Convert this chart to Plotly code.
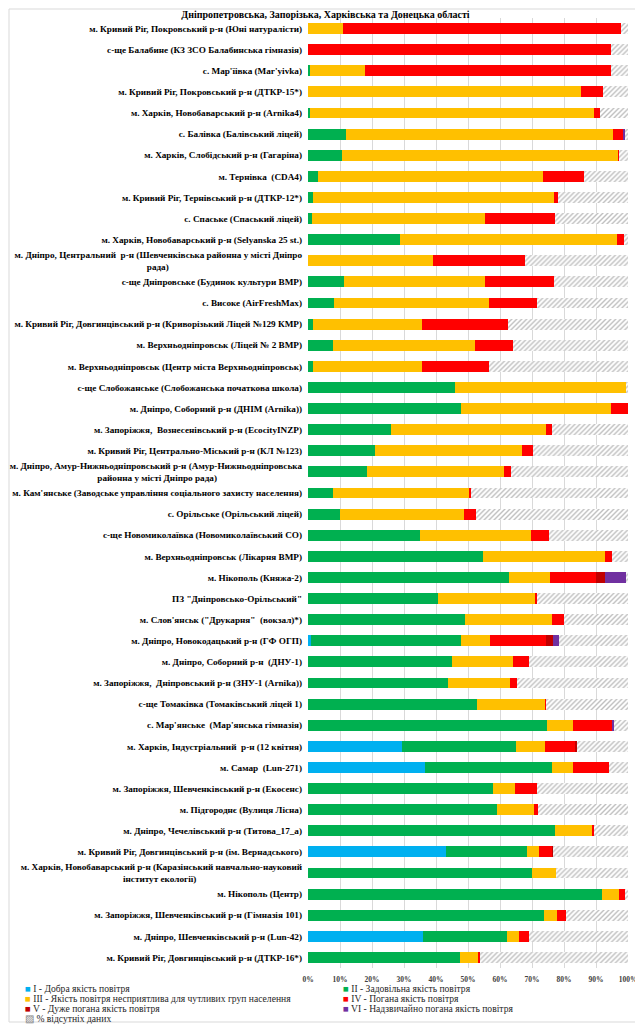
import plotly.graph_objects as go

categories = [
    "м. Кривий Ріг, Покровський р-н (Юні натуралісти)",
    "с-ще Балабине (КЗ ЗСО Балабинська гімназія)",
    "с. Мар'їівка (Mar'yivka)",
    "м. Кривий Ріг, Покровський р-н (ДТКР-15*)",
    "м. Харків, Новобаварський р-н (Arnika4)",
    "с. Балівка (Балівський ліцей)",
    "м. Харків, Слобідський р-н (Гагаріна)",
    "м. Тернівка  (CDA4)",
    "м. Кривий Ріг, Тернівський р-н (ДТКР-12*)",
    "с. Спаське (Спаський ліцей)",
    "м. Харків, Новобаварський р-н (Selyanska 25 st.)",
    "м. Дніпро, Центральний  р-н (Шевченківська районна у місті Дніпро рада)",
    "с-ще Дніпровське (Будинок культури ВМР)",
    "с. Високе (AirFreshMax)",
    "м. Кривий Ріг, Довгинцівський р-н (Криворізький Ліцей №129 КМР)",
    "м. Верхньодніпровськ (Ліцей № 2 ВМР)",
    "м. Верхньодніпровськ (Центр міста Верхньодніпровськ)",
    "с-ще Слобожанське (Слобожанська початкова школа)",
    "м. Дніпро, Соборний р-н (ДНІМ (Arnika))",
    "м. Запоріжжя,  Вознесенівський р-н (EcocityINZP)",
    "м. Кривий Ріг, Центрально-Міський р-н (КЛ №123)",
    "м. Дніпро, Амур-Нижньодніпровський р-н (Амур-Нижньодніпровська районна у місті Дніпро рада)",
    "м. Кам'янське (Заводське управління соціального захисту населення)",
    "с. Орільське (Орільський ліцей)",
    "с-ще Новомиколаївка (Новомиколаївський СО)",
    "м. Верхньодніпровськ (Лікарня ВМР)",
    "м. Нікополь (Княжа-2)",
    "ПЗ \"Дніпровсько-Орільський\"",
    "м. Слов'янськ (\"Друкарня\"  (вокзал)*)",
    "м. Дніпро, Новокодацький р-н (ГФ ОГП)",
    "м. Дніпро, Соборний р-н  (ДНУ-1)",
    "м. Запоріжжя,  Дніпровський р-н (ЗНУ-1 (Arnika))",
    "с-ще Томаківка (Томаківський ліцей 1)",
    "с. Мар'янське  (Мар'янська гімназія)",
    "м. Харків, Індустріальний  р-н (12 квітня)",
    "м. Самар  (Lun-271)",
    "м. Запоріжжя, Шевченківський р-н (Екосенс)",
    "м. Підгороднє (Вулиця Лісна)",
    "м. Дніпро, Чечелівський р-н (Титова_17_а)",
    "м. Кривий Ріг, Довгинцівський р-н (ім. Вернадського)",
    "м. Харків, Новобаварський р-н (Каразінський навчально-науковий інститут екології)",
    "м. Нікополь (Центр)",
    "м. Запоріжжя, Шевченківський р-н (Гімназія 101)",
    "м. Дніпро, Шевченківський р-н (Lun-42)",
    "м. Кривий Ріг, Довгинцівський р-н (ДТКР-16*)",
]

good = [0, 0, 0, 0, 0, 0, 0, 0, 0, 0, 0, 0, 0, 0, 0, 0, 0, 0, 0, 0, 0, 0, 0,
        0, 0, 0, 0, 0, 0, 1.0, 0, 0, 0, 0, 29.5, 36.7, 0, 0, 0, 43.2, 0, 0, 0,
        35.8, 0]
satisfactory = [0, 0, 0.5, 0, 0.6, 11.9, 10.6, 3.2, 1.5, 1.4, 28.6, 0, 11.2,
                8.1, 1.5, 7.7, 1.5, 45.8, 47.9, 26.0, 20.8, 18.3, 7.8, 10.0,
                34.9, 54.6, 62.8, 40.5, 49.2, 46.7, 45.1, 43.6, 52.9, 74.6,
                35.6, 39.7, 57.9, 59.0, 77.3, 25.1, 69.9, 91.8, 73.6, 26.3,
                47.4]
sensitive = [10.9, 0, 17.3, 85.3, 88.7, 83.3, 86.4, 70.1, 75.5, 54.0, 67.9,
             39.1, 44.0, 48.5, 34.1, 44.5, 34.0, 53.6, 46.9, 48.3, 46.0, 43.1,
             42.6, 38.8, 34.9, 38.1, 12.9, 30.6, 26.9, 9.2, 19.0, 19.6, 21.2,
             8.2, 9.1, 6.5, 6.9, 11.5, 11.5, 3.8, 7.6, 5.4, 4.2, 3.7, 5.8]
poor = [86.9, 94.6, 76.8, 7.0, 1.8, 3.3, 0.3, 12.9, 1.2, 21.9, 2.1, 28.7,
        21.8, 14.9, 26.9, 11.8, 21.2, 0, 5.2, 2.1, 3.5, 2.1, 0.6, 3.8, 5.4,
        2.2, 14.2, 0.5, 3.8, 17.4, 4.9, 2.1, 0.3, 12.1, 9.5, 11.3, 6.8, 1.5,
        0.5, 4.2, 0, 1.9, 2.7, 3.2, 0.4]
very_poor = [0, 0, 0, 0, 0, 0, 0, 0, 0, 0, 0, 0, 0, 0, 0, 0, 0, 0, 0, 0, 0, 0,
             0, 0, 0, 0, 2.8, 0, 0, 2.3, 0, 0, 0, 0, 0.3, 0, 0, 0, 0, 0.4, 0,
             0, 0, 0, 0]
extremely_poor = [0, 0, 0, 0, 0, 0.5, 0, 0, 0, 0, 0, 0, 0, 0, 0, 0, 0, 0, 0, 0,
                  0, 0, 0, 0, 0, 0, 6.9, 0, 0, 1.8, 0, 0, 0, 0.8, 0, 0, 0, 0,
                  0, 0, 0, 0, 0, 0, 0]
missing = [2.2, 5.4, 5.4, 7.7, 8.9, 1.0, 2.7, 13.8, 21.8, 22.7, 1.4, 32.2,
           23.0, 28.5, 37.5, 36.0, 43.3, 0.6, 0, 23.6, 29.7, 36.5, 49.0, 47.4,
           24.8, 5.1, 0.4, 28.4, 20.1, 21.6, 31.0, 34.7, 25.6, 4.3, 16.0, 5.8,
           28.4, 28.0, 10.7, 23.3, 22.5, 0.9, 19.5, 31.0, 46.4]

series_names = [
    "I - Добра якість повітря",
    "II - Задовільна якість повітря",
    "III - Якість повітря несприятлива для чутливих груп населення",
    "IV - Погана якість повітря",
    "V - Дуже погана якість повітря",
    "VI - Надзвичайно погана якість повітря",
    "% відсутніх даних",
]
x_ticks = [0, 10, 20, 30, 40, 50, 60, 70, 80, 90, 100]
x_tick_labels = ["0%", "10%", "20%", "30%", "40%", "50%", "60%", "70%", "80%",
                 "90%", "100%"]
title_text = "Дніпропетровська, Запорізька, Харківська та Донецька області"

# ---- styling ----
colors = ["#00B0F0", "#00B050", "#FFC000", "#FF0000", "#C00000", "#7030A0"]
OFF = 8                      # page body margin of the html page
W, H = 643 - OFF, 1024 - OFF
ML, MR, MT, MB = 308 - OFF, 15, 18 - OFF, 56
PW, PH = W - ML - MR, H - MT - MB
SERIF = "Liberation Serif, Times New Roman, serif"

# wrapped tick labels (line breaks)
wraps = {
    11: ("м. Дніпро, Центральний  р-н (Шевченківська районна у місті Дніпро", "рада)", 58),
    21: ("м. Дніпро, Амур-Нижньодніпровський р-н (Амур-Нижньодніпровська", "районна у місті Дніпро рада)", 37),
    40: ("м. Харків, Новобаварський р-н (Каразінський навчально-науковий", "інститут екології)", 46),
}
ticktext = []
for i, c in enumerate(categories):
    if i in wraps:
        a, b, pad = wraps[i]
        ticktext.append(a + "<br>" + b + "\u00a0" * pad)
    else:
        ticktext.append(c)

fig = go.Figure()
all_series = [good, satisfactory, sensitive, poor, very_poor, extremely_poor]
for name, vals, col in zip(series_names[:6], all_series, colors):
    fig.add_trace(go.Bar(y=categories, x=vals, name=name, orientation="h",
                         marker=dict(color=col, line=dict(width=0)),
                         showlegend=False))
fig.add_trace(go.Bar(y=categories, x=missing, name=series_names[6], orientation="h",
                     marker=dict(color="white", line=dict(width=0),
                                 pattern=dict(shape="/", fgcolor="#7f7f7f",
                                              bgcolor="white", size=3.5, solidity=0.4)),
                     showlegend=False))

fig.update_layout(
    width=W, height=H,
    margin=dict(l=ML, r=MR, t=MT, b=MB, autoexpand=False),
    barmode="stack", barnorm="percent", bargap=0.48,
    plot_bgcolor="white", paper_bgcolor="white",
    font=dict(family=SERIF, color="#000000"),
    title=dict(text=title_text, x=0.5, xanchor="center", y=1 - 6 / H,
               yanchor="middle",
               font=dict(family=SERIF, size=10, weight="bold", color="#000000")),
    xaxis=dict(range=[0, 100], tickvals=x_ticks, ticktext=x_tick_labels,
               automargin=False,
               showgrid=True, gridcolor="#d9d9d9", gridwidth=1,
               zeroline=False, showline=False, ticks="", ticklabelstandoff=5,
               tickfont=dict(family=SERIF, size=7.5, weight="bold", color="#404040")),
    yaxis=dict(autorange="reversed", tickvals=categories, ticktext=ticktext,
               automargin=False,
               showgrid=False, zeroline=False, showline=False, ticks="",
               ticklabelstandoff=5,
               tickfont=dict(family=SERIF, size=9.2, weight="bold", color="#000000")),
)

def px2x(px):
    return (px - OFF - ML) / PW

def py2y(py):
    return (H - MB - (py - OFF)) / PH

# outer chart border
fig.add_shape(type="rect", xref="paper", yref="paper",
              x0=px2x(9), x1=px2x(641), y0=py2y(1022), y1=py2y(9),
              line=dict(color="#d9d9d9", width=1), fillcolor="rgba(0,0,0,0)",
              layer="below")

# legend as text entries (two columns)
legend_pos = [(23, 989), (341, 989), (23, 999), (341, 999),
              (23, 1008.5), (341, 1008.5), (23, 1018)]
symbols = [("■", c) for c in colors] + [("▨", "#7f7f7f")]
for (lx, ly), (sym, col), name in zip(legend_pos, symbols, series_names):
    fig.add_annotation(
        xref="paper", yref="paper", x=px2x(lx), y=py2y(ly),
        xanchor="left", yanchor="middle", showarrow=False,
        text=f"<span style='color:{col}'>{sym}</span> {name}",
        font=dict(family=SERIF, size=9.6, color="#262626"))

fig.write_html("out.html")
